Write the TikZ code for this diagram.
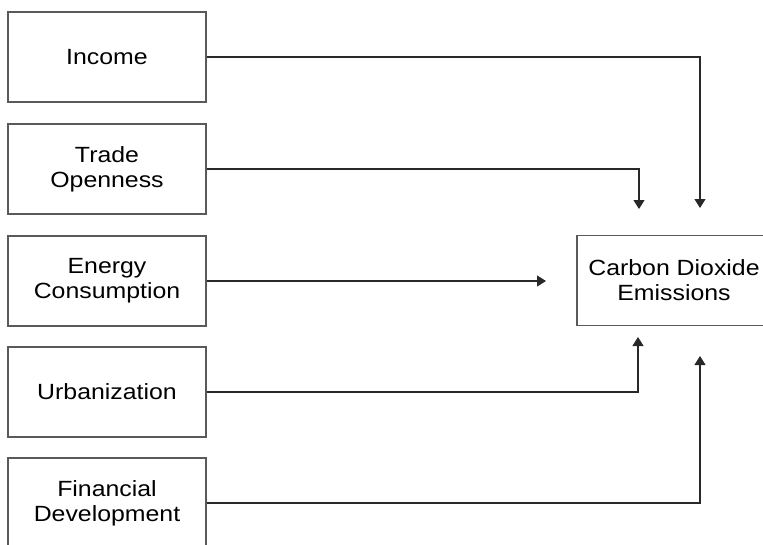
\documentclass[tikz,border=0pt]{standalone}
\usepackage{fontspec}
\setmainfont{Liberation Sans}[FakeStretch=1.13]
\usetikzlibrary{arrows.meta}
\begin{document}
\begin{tikzpicture}[x=1pt,y=-1pt,font=\fontsize{22}{25}\selectfont,
  factor/.style={draw={rgb,255:red,90;green,90;blue,90},line width=1.3pt,fill=white,minimum width=198pt,minimum height=90pt,align=center,inner sep=0pt},
  link/.style={draw={rgb,255:red,40;green,40;blue,40},line width=1.1pt,-{Triangle[width=11pt,length=9pt]}}]
\useasboundingbox (0,0) rectangle (763,544);
\clip (0,0) rectangle (763,544);
\foreach \n/\y/\lab in {inc/57/Income,trd/169/Trade\\Openness,eng/281/Energy\\Consumption,urb/392/Urbanization,fin/503/Financial\\Development}{\node[factor] (\n) at (107,\y) {\lab};}
\node[factor,minimum width=194pt] (co2) at (674,280.5) {Carbon Dioxide\\Emissions};
% free ends of the connectors
\coordinate (incIn) at (700,208);
\coordinate (trdIn) at (639,209);
\coordinate (engIn) at (546,281);
\coordinate (urbIn) at (638,337);
\coordinate (finIn) at (700,356);
\draw[link] (inc.east) -| (incIn);
\draw[link] (trd.east) -| (trdIn);
\draw[link] (eng.east) -- (engIn);
\draw[link] (urb.east) -| (urbIn);
\draw[link] (fin.east) -| (finIn);
\end{tikzpicture}
\end{document}
